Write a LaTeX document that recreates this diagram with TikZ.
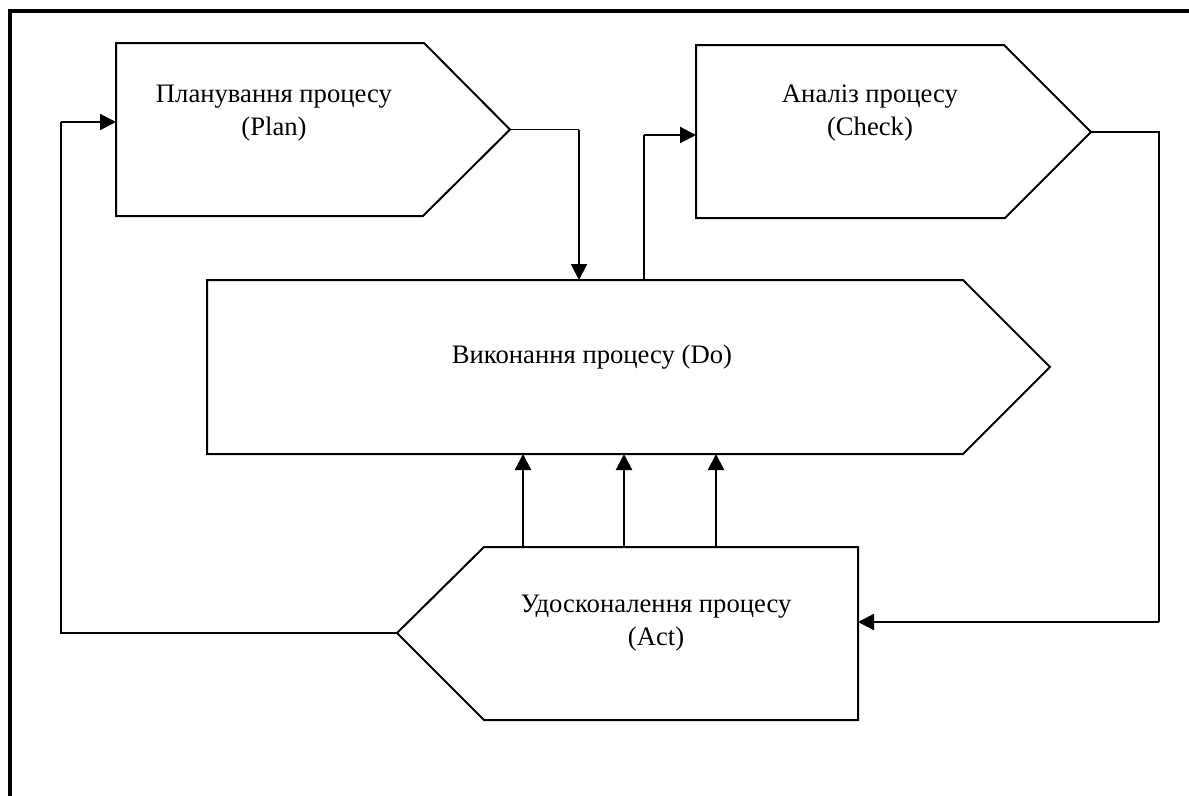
\documentclass[tikz,border=0pt]{standalone}
\usepackage{fontspec}
\setmainfont{Liberation Serif}
\usetikzlibrary{arrows.meta}
\begin{document}
\begin{tikzpicture}[x=0.75pt,y=-0.75pt,
  box/.style={line width=1.5pt,line join=miter},
  thinline/.style={line width=0.8pt},
  arr/.style={line width=1.6pt,-{Triangle[length=12pt,width=12pt]}},
  lbl/.style={align=center,font=\fontsize{20}{24.75}\selectfont,inner sep=0pt}]
\useasboundingbox (0,0) rectangle (1189,796);
% outer frame (top and left edges)
\draw[line width=3pt] (9.5,796) -- (9.5,10.5) -- (1189,10.5);

% Plan
\draw[box] (116,43) coordinate (planNW) -- (424,43) -- (510,129.5) coordinate (planTip)
  -- (423,216) -- (116,216) -- cycle;
\node[lbl] (planTxt) at (274,113.5) {Планування процесу\\(Plan)};

% Check
\draw[box] (696,45) coordinate (checkNW) -- (1004,45) -- (1091,132) coordinate (checkTip)
  -- (1005,218) -- (696,218) -- cycle;
\node[lbl] (checkTxt) at (870,113.5) {Аналіз процесу\\(Check)};

% Do
\draw[box] (207,280) coordinate (doNW) -- (963,280) -- (1050,367) coordinate (doTip)
  -- (963,454) -- (207,454) coordinate (doSW) -- cycle;
\node[lbl] (doTxt) at (592,357) {Виконання процесу (Do)};

% Act
\draw[box] (858,547) coordinate (actNE) -- (484,547) -- (397,633) coordinate (actTip)
  -- (484,720) -- (858,720) -- cycle;
\node[lbl] (actTxt) at (656,623) {Удосконалення процесу\\(Act)};

% Plan -> Do
\coordinate (pd) at (579,129.5);
\draw[thinline] (planTip) -- (pd);
\draw[arr] (pd) -- (pd |- doNW);

% Do -> Check
\coordinate (dc1) at (644,280);
\coordinate (dc2) at (644,135);
\draw[thinline] (dc1) -- (dc2);
\draw[arr] (dc2) -- (dc2 -| checkNW);

% Check -> Act
\coordinate (ca1) at (1159,132);
\coordinate (ca2) at (1159,622);
\draw[thinline] (checkTip) -- (ca1) -- (ca2);
\draw[arr] (ca2) -- (ca2 -| actNE);

% Act -> Do
\foreach \x/\n in {523/a,624/b,716/c}{
  \coordinate (ad\n) at (\x,547);
  \draw[arr] (ad\n) -- (ad\n |- doSW);
}

% Act -> Plan
\coordinate (ap1) at (61,633);
\coordinate (ap2) at (61,122);
\draw[thinline] (actTip) -- (ap1) -- (ap2);
\draw[arr] (ap2) -- (ap2 -| planNW);
\end{tikzpicture}
\end{document}
